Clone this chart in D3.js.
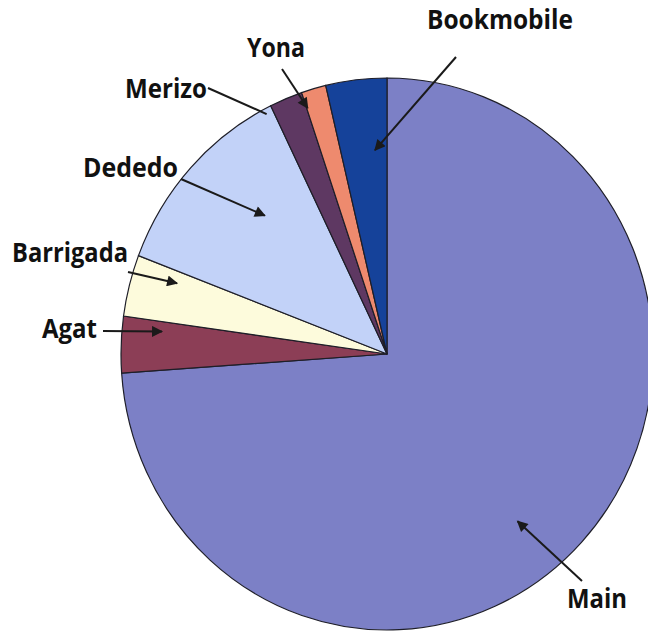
<!DOCTYPE html>
<html>
<head>
<meta charset="utf-8">
<script src="https://cdn.jsdelivr.net/npm/d3@7"></script>
<style>
  body { margin: 0; background: #fff; }
  svg { display: block; }
  .slice { stroke: #1e1e28; stroke-width: 1.2; vector-effect: non-scaling-stroke; }
  .label { font-family: "Open Sans", sans-serif; font-weight: 700; font-size: 26px; fill: #111; }
  .leader { stroke: #1a1a1a; stroke-width: 2; fill: none; }
</style>
</head>
<body>
<svg id="chart"></svg>
<script>
// data: share of circulation by branch (percent), clockwise from 12 o'clock
const branches = ["Main", "Agat", "Barrigada", "Dededo", "Merizo", "Yona", "Bookmobile"];
const shares   = [73.9, 3.3, 3.6, 12.0, 2.0, 1.5, 3.7];
const colors   = ["#7c80c6", "#8c3e56", "#fdfbdc", "#c2d2f8", "#5e3862", "#ee8a6e", "#15429a"];

// label layout: text anchor point, leader start, leader tip in polar coords (deg, radius fraction)
const labelPos = [
  { x: 567, y: 608, w: 60,  from: [582, 581], tip: [141, 0.78], arrow: true },
  { x: 42,  y: 338, w: 55,  from: [103, 331], tip: [275.5, 0.85], arrow: true },
  { x: 12,  y: 262, w: 116, from: [128, 272], tip: [288, 0.83], arrow: true },
  { x: 83,  y: 177, w: 95,  from: [181, 179], tip: [317.5, 0.68], arrow: true },
  { x: 125, y: 98,  w: 82,  from: [208, 88],  tip: [332.5, 0.98], arrow: false },
  { x: 247, y: 57,  w: 58,  from: [282, 69],  tip: [341.5, 0.94], arrow: true },
  { x: 427, y: 29,  w: 146, from: [456, 57],  tip: [356.5, 0.74], arrow: true }
];

const width = 648, height = 636;
const cx = 387, cy = 354, rx = 266, ry = 276;

const svg = d3.select("#chart")
  .attr("width", width)
  .attr("height", height);

svg.append("defs").append("marker")
  .attr("id", "arrow")
  .attr("viewBox", "0 0 10 10")
  .attr("refX", 9).attr("refY", 5)
  .attr("markerWidth", 13).attr("markerHeight", 11)
  .attr("markerUnits", "userSpaceOnUse")
  .attr("orient", "auto")
  .append("path")
  .attr("d", "M0,0 L10,5 L0,10 Z")
  .attr("fill", "#1a1a1a");

const pie = d3.pie().sort(null).value(d => d);
const arcs = pie(shares);

const arc = d3.arc().innerRadius(0).outerRadius(ry);

// the scanned pie is slightly narrower than tall
const pieGroup = svg.append("g")
  .attr("transform", `translate(${cx},${cy}) scale(${rx / ry},1)`);

pieGroup.selectAll(".slice")
  .data(arcs)
  .enter()
  .append("path")
  .attr("class", "slice")
  .attr("fill", (d, i) => colors[i])
  .attr("d", arc);

// polar -> screen, respecting the elliptical shape
function polar(deg, frac) {
  const a = deg * Math.PI / 180;
  return [cx + Math.sin(a) * rx * frac, cy - Math.cos(a) * ry * frac];
}

const labels = svg.append("g");

branches.forEach(function(name, i){
  const lp = labelPos[i];
  const tip = polar(lp.tip[0], lp.tip[1]);
  labels.append("line")
    .attr("class", "leader")
    .attr("x1", lp.from[0]).attr("y1", lp.from[1])
    .attr("x2", tip[0]).attr("y2", tip[1])
    .attr("marker-end", lp.arrow ? "url(#arrow)" : null);
  labels.append("text")
    .attr("class", "label")
    .attr("x", lp.x)
    .attr("y", lp.y)
    .attr("textLength", lp.w)
    .attr("lengthAdjust", "spacingAndGlyphs")
    .text(name);
});
</script>
</body>
</html>
